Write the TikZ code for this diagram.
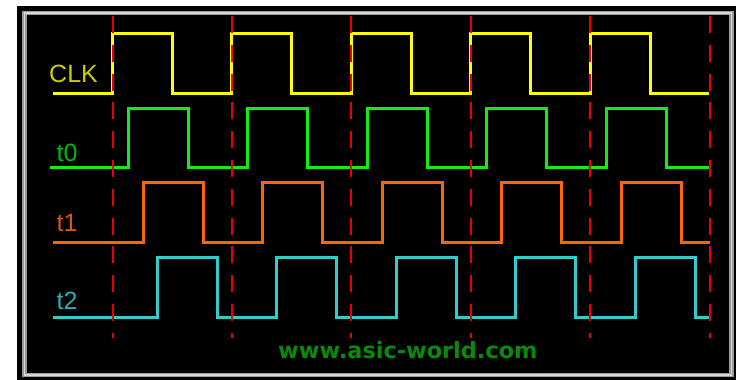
\documentclass[tikz,border=0pt]{standalone}
\usepackage{fontspec}
\setmainfont{Liberation Sans}
\newfontfamily\wmfont{DejaVu Sans}
\definecolor{clkline}{HTML}{FFFF00}
\definecolor{clklab}{HTML}{CCCC00}
\definecolor{tzline}{HTML}{11EE11}
\definecolor{tzlab}{HTML}{00BB00}
\definecolor{toline}{HTML}{FF6600}
\definecolor{tolab}{HTML}{D85A00}
\definecolor{ttline}{HTML}{33CCCC}
\definecolor{ttlab}{HTML}{2CB0B0}
\definecolor{markred}{HTML}{EE0000}
\definecolor{wmgreen}{HTML}{0A8A0A}
\definecolor{framegray}{HTML}{9A9A9A}
\definecolor{framelight}{HTML}{D8D8D8}
\begin{document}
\begin{tikzpicture}[x=1pt,y=-1pt,
  sig/.style={line width=3pt, line join=miter},
  marker/.style={markred, line width=2pt, dash pattern=on 17pt off 11.8pt},
  siglabel/.style={anchor=base west, inner sep=0pt, font=\fontsize{25}{25}\selectfont},
  wm/.style={anchor=base west, inner sep=0pt, font=\wmfont\bfseries\fontsize{22.4}{22.4}\selectfont, text=wmgreen}]
\useasboundingbox (0,0) rectangle (744,380);
\fill[white] (0,0) rectangle (744,380);
\fill[black] (17,6) rectangle (736,380);
\draw[framegray, line width=4.5pt] (24.5,13) rectangle (731.5,375);
\draw[framelight, line width=1.2pt] (24.5,13) rectangle (731.5,375);
% CLK
\draw[sig, clkline] (53,93)
  \foreach \k in {0,...,4} { -- ({112.5+119.4*\k},93) -- ({112.5+119.4*\k},33) -- ({172.5+119.4*\k},33) -- ({172.5+119.4*\k},93) } -- (709,93);
% t0
\draw[sig, tzline] (50,167)
  \foreach \k in {0,...,4} { -- ({128.5+119.4*\k},167) -- ({128.5+119.4*\k},108) -- ({188.5+119.4*\k},108) -- ({188.5+119.4*\k},167) } -- (710,167);
% t1
\draw[sig, toline] (53,242)
  \foreach \k in {0,...,4} { -- ({143.5+119.4*\k},242) -- ({143.5+119.4*\k},182) -- ({203.5+119.4*\k},182) -- ({203.5+119.4*\k},242) } -- (710,242);
% t2
\draw[sig, ttline] (53,317)
  \foreach \k in {0,...,4} { -- ({157.5+119.4*\k},317) -- ({157.5+119.4*\k},257) -- ({217.5+119.4*\k},257) -- ({217.5+119.4*\k},317) } -- (709,317);
% markers
\foreach \k in {0,...,5} {
  \draw[marker] ({112.5+119.4*\k},16) -- ({112.5+119.4*\k},338);
}
% labels
\node[siglabel, text=clklab] (lclk) at (49,82) {CLK};
\node[siglabel, text=tzlab] (ltz) at (56.5,161) {t0};
\node[siglabel, text=tolab] (lto) at (56.5,231) {t1};
\node[siglabel, text=ttlab] (ltt) at (56.5,309) {t2};
\node[wm] (wmark) at (278,358) {www.asic-world.com};
\end{tikzpicture}
\end{document}
